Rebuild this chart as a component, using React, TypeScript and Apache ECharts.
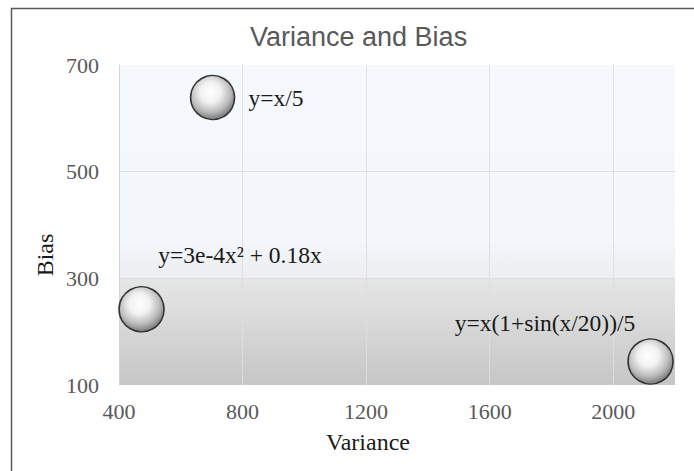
import React, { useEffect, useRef } from 'react';
import * as echarts from 'echarts';

const titleText = 'Variance and Bias';
const xName = 'Variance';
const yName = 'Bias';
const pointLabels = ['y=x/5', 'y=3e-4x² + 0.18x', 'y=x(1+sin(x/20))/5'];
const variance = [703, 473, 2121];
const bias = [639, 242, 144];
const bubbleSize = [44, 45, 45];
const xRange = [400, 2200];
const xStep = 400;
const yRange = [100, 700];
const yStep = 200;

const labelStyles = [
  { position: 'right', distance: 13, align: 'left', verticalAlign: 'middle' },
  { position: [40, -31], align: 'left', verticalAlign: 'middle' },
  { position: [8, -15], align: 'right', verticalAlign: 'middle' },
];

export default function App() {
  const ref = useRef<HTMLDivElement>(null);
  useEffect(() => {
    document.body.style.margin = '0';
    const chart = echarts.init(ref.current!, null, { renderer: 'svg' });
    const sphere = new echarts.graphic.RadialGradient(0.45, 0.38, 0.65, [
      { offset: 0, color: '#ffffff' },
      { offset: 0.35, color: '#f2f2f2' },
      { offset: 0.7, color: '#bababa' },
      { offset: 0.9, color: '#878787' },
      { offset: 1, color: '#a0a0a0' },
    ]);
    const plotBg = new echarts.graphic.LinearGradient(0, 0, 0, 1, [
      { offset: 0, color: '#f5f9fd' },
      { offset: 0.55, color: '#f3f6fa' },
      { offset: 0.664, color: '#eceef1' },
      { offset: 0.667, color: '#e6e6e6' },
      { offset: 1, color: '#c6c6c6' },
    ]);
    const serif = '"Liberation Serif", "Times New Roman", serif';
    const grid = 'rgba(222,222,222,0.9)';
    const data = variance.map((v, i) => ({
      value: [v, bias[i], bubbleSize[i]],
      name: pointLabels[i],
      label: {
        show: true,
        formatter: pointLabels[i],
        ...(labelStyles[i] as any),
      },
    }));
    chart.setOption({
      animation: false,
      backgroundColor: '#ffffff',
      title: {
        text: titleText,
        left: 245,
        top: 18,
        textStyle: {
          fontFamily: '"Liberation Sans", Arial, sans-serif',
          fontSize: 27,
          fontWeight: 'normal',
          color: '#595959',
        },
      },
      grid: {
        left: 119,
        top: 65,
        right: 19,
        bottom: 86,
        show: true,
        borderWidth: 0,
        backgroundColor: plotBg,
      },
      xAxis: {
        type: 'value',
        min: xRange[0],
        max: xRange[1],
        interval: xStep,
        axisLine: { show: false },
        axisTick: { show: false },
        axisLabel: {
          showMaxLabel: false,
          margin: 15,
          formatter: (v: number) => String(v),
          fontFamily: serif,
          fontSize: 22,
          color: '#595959',
        },
        splitLine: {
          show: true,
          lineStyle: {
            color: ['transparent', grid, grid, grid, grid, 'transparent'],
            width: 1,
          },
        },
      },
      yAxis: {
        type: 'value',
        min: yRange[0],
        max: yRange[1],
        interval: yStep,
        axisLine: { show: true, lineStyle: { color: '#d4d4d4', width: 1 } },
        axisTick: { show: false },
        axisLabel: {
          margin: 20,
          formatter: (v: number) => String(v),
          fontFamily: serif,
          fontSize: 22,
          color: '#595959',
        },
        splitLine: {
          show: true,
          lineStyle: {
            color: ['transparent', grid, grid, 'transparent'],
            width: 1,
          },
        },
      },
      graphic: [
        {
          type: 'rect',
          shape: { x: 11.5, y: 8.5, width: 700, height: 500 },
          style: { fill: 'none', stroke: '#595959', lineWidth: 1.5 },
          silent: true,
          z: 100,
        },
        {
          type: 'text',
          x: 368,
          y: 442,
          style: {
            text: xName,
            align: 'center',
            verticalAlign: 'middle',
            fontFamily: serif,
            fontSize: 24,
            fill: '#1a1a1a',
          },
        },
        {
          type: 'text',
          x: 45,
          y: 255,
          rotation: Math.PI / 2,
          style: {
            text: yName,
            align: 'center',
            verticalAlign: 'middle',
            fontFamily: serif,
            fontSize: 24,
            fill: '#1a1a1a',
          },
        },
      ],
      series: [
        {
          type: 'scatter',
          data,
          symbol: 'circle',
          symbolSize: (val: number[]) => val[2],
          itemStyle: {
            color: sphere,
            borderColor: '#333333',
            borderWidth: 1.6,
            opacity: 1,
          },
          label: {
            fontFamily: serif,
            fontSize: 23.5,
            color: '#1a1a1a',
          },
          emphasis: { disabled: true },
        },
      ],
    });
    return () => chart.dispose();
  }, []);
  return <div ref={ref} style={{ width: 694, height: 471 }} />;
}
